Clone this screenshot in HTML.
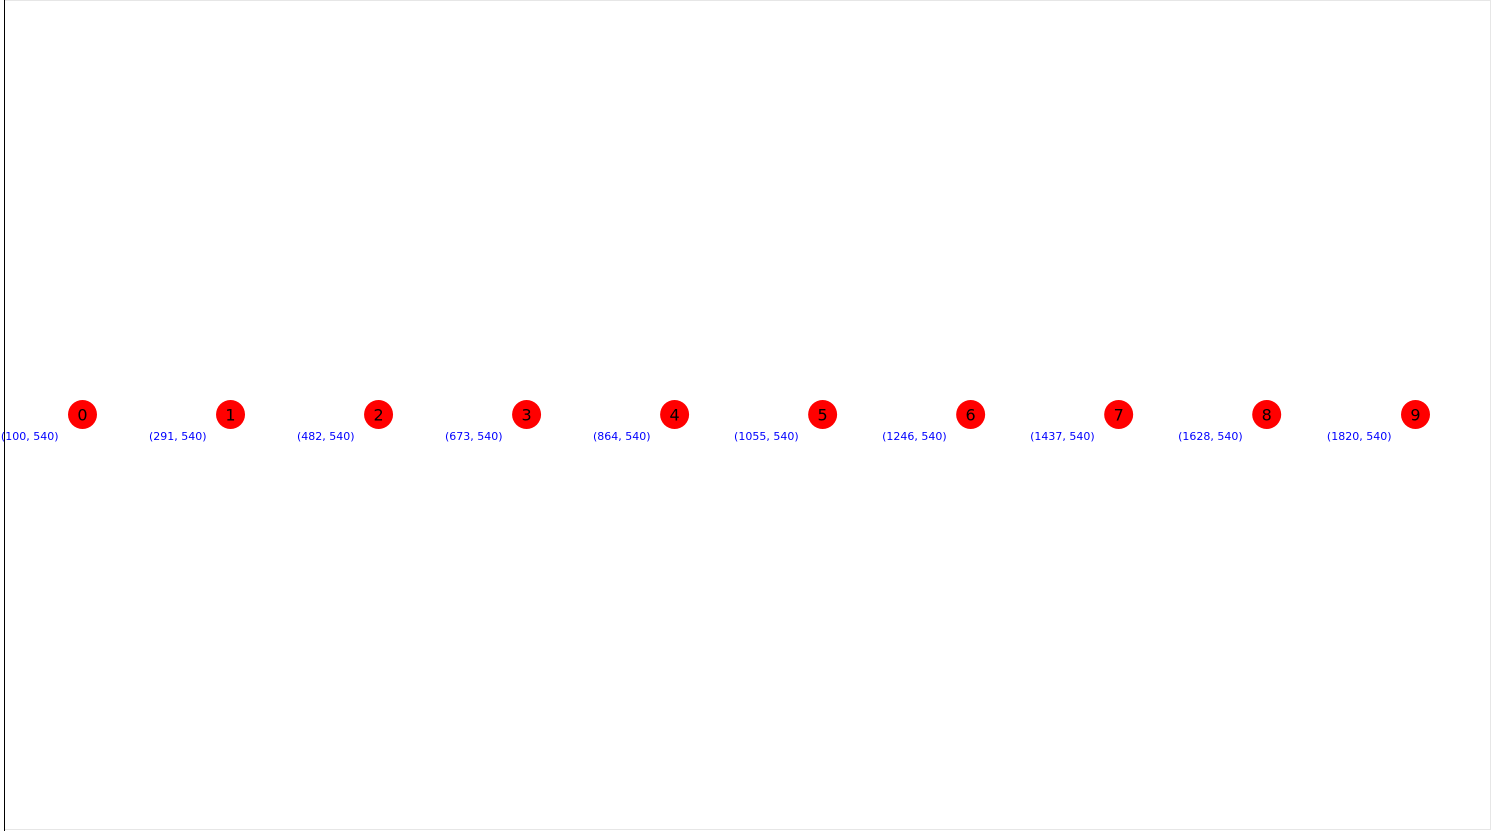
<!DOCTYPE html>
<html><head><meta charset="utf-8"><style>
html,body{margin:0;padding:0;background:#fff;width:1492px;height:831px;overflow:hidden}
svg{display:block}
</style></head><body>
<svg id="chart" width="1492" height="831" font-family="'DejaVu Sans','Liberation Sans',sans-serif">
<rect x="4.5" y="0.5" width="1486" height="829" fill="none" stroke="#e6e6e6"/>
<line x1="4.5" y1="0" x2="4.5" y2="831" stroke="#000" stroke-width="1"/>
<g id="nodes"></g>
</svg>
<script>
const nodeIds = [0,1,2,3,4,5,6,7,8,9];
const nodeX = [100,291,482,673,864,1055,1246,1437,1628,1820];
const nodeY = [540,540,540,540,540,540,540,540,540,540];
function sx(v){return 82.5 + (v-100)*(1415.5-82.5)/(1820-100);}
function sy(v){return 414.5 + (v-540)*0.775;}
const g=document.getElementById('nodes');
const NS='http://www.w3.org/2000/svg';
nodeIds.forEach((id,i)=>{
  const cx=sx(nodeX[i]), cy=sy(nodeY[i]);
  const c=document.createElementNS(NS,'circle');
  c.setAttribute('cx',cx);c.setAttribute('cy',cy);c.setAttribute('r',14.5);c.setAttribute('fill','#ff0000');
  
  
  g.appendChild(c);
  const t=document.createElementNS(NS,'text');
  t.setAttribute('x',cx);t.setAttribute('y',cy+6);t.setAttribute('text-anchor','middle');t.setAttribute('font-size','16');t.setAttribute('fill','#000');
  t.textContent=id;
  
  
  g.appendChild(t);
  const p=document.createElementNS(NS,'text');
  p.setAttribute('x',cx-24);p.setAttribute('y',cy+25.5);p.setAttribute('text-anchor','end');p.setAttribute('font-size','11');p.setAttribute('fill','#0000ff');
  p.textContent='('+nodeX[i]+', '+nodeY[i]+')';
  
  
  g.appendChild(p);
});
</script>
</body></html>
